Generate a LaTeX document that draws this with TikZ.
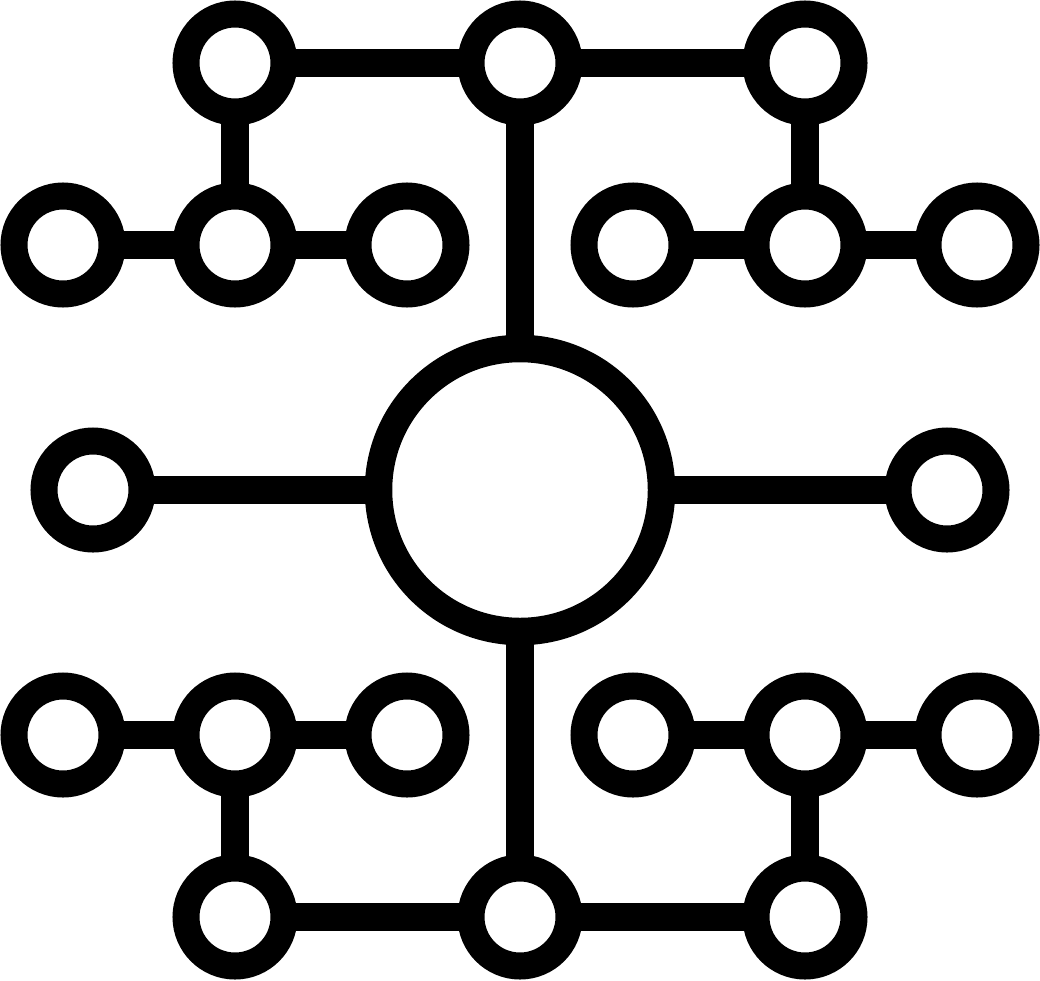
\documentclass[tikz,border=0pt]{standalone}
\usetikzlibrary{backgrounds}
\begin{document}
\begin{tikzpicture}[x=1pt,y=-1pt,
  dot/.style={circle,draw=black,fill=white,line width=27pt,inner sep=0pt,minimum size=98pt},
  hub/.style={circle,draw=black,fill=white,line width=27.5pt,inner sep=0pt,minimum size=283pt},
  wire/.style={draw=black,line width=28pt,line cap=butt}]
\useasboundingbox (0,0) rectangle (1040,980);
% hub
\node[hub] (C) at (520,490) {};
% top
\node[dot] (T1) at (235,63) {};
\node[dot] (T2) at (520,63) {};
\node[dot] (T3) at (805,63) {};
\node[dot] (L1) at (63,245) {};
\node[dot] (L2) at (235,245) {};
\node[dot] (L3) at (407,245) {};
\node[dot] (R1) at (633,245) {};
\node[dot] (R2) at (805,245) {};
\node[dot] (R3) at (977,245) {};
% middle
\node[dot] (ML) at (93,490) {};
\node[dot] (MR) at (947,490) {};
% bottom
\node[dot] (L4) at (63,735) {};
\node[dot] (L5) at (235,735) {};
\node[dot] (L6) at (407,735) {};
\node[dot] (R4) at (633,735) {};
\node[dot] (R5) at (805,735) {};
\node[dot] (R6) at (977,735) {};
\node[dot] (B1) at (235,917) {};
\node[dot] (B2) at (520,917) {};
\node[dot] (B3) at (805,917) {};
\begin{scope}[on background layer]
\draw[wire] (T1.center) -- (T2.center) -- (T3.center);
\draw[wire] (T1.center) -- (L2.center);
\draw[wire] (L1.center) -- (L2.center) -- (L3.center);
\draw[wire] (T3.center) -- (R2.center);
\draw[wire] (R1.center) -- (R2.center) -- (R3.center);
\draw[wire] (T2.center) -- (C.center) -- (B2.center);
\draw[wire] (ML.center) -- (C.center) -- (MR.center);
\draw[wire] (B1.center) -- (B2.center) -- (B3.center);
\draw[wire] (B1.center) -- (L5.center);
\draw[wire] (L4.center) -- (L5.center) -- (L6.center);
\draw[wire] (B3.center) -- (R5.center);
\draw[wire] (R4.center) -- (R5.center) -- (R6.center);
\end{scope}
\end{tikzpicture}
\end{document}
